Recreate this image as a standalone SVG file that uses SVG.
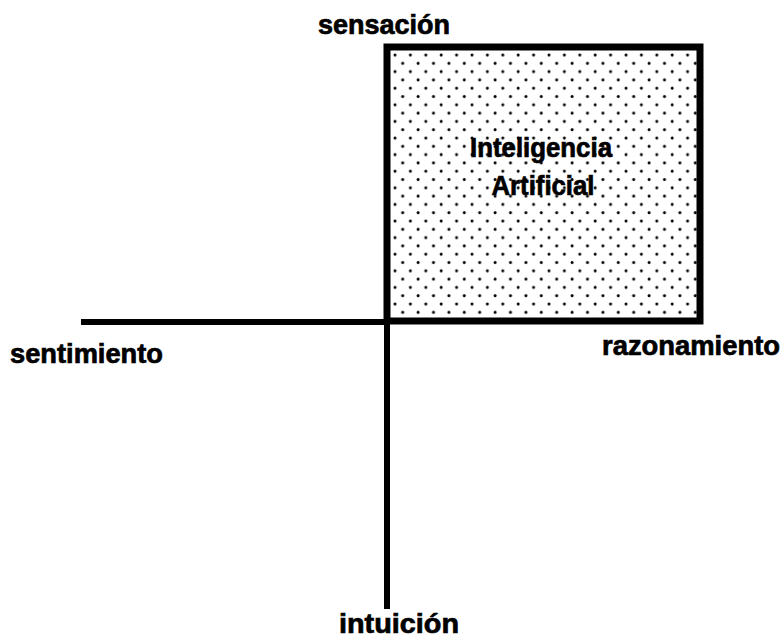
<svg xmlns="http://www.w3.org/2000/svg" width="784" height="640" viewBox="0 0 784 640">
<style>
.lbl{font-family:"Liberation Sans",Arial,sans-serif;font-weight:bold;font-size:27px;fill:#000;stroke:#000;stroke-width:0.7}
.ax{stroke:#000;stroke-width:6;fill:none;stroke-linecap:butt}
</style>
<defs>
<pattern id="dots" x="391" y="51" width="15.4" height="16.6" patternUnits="userSpaceOnUse">
<circle cx="4" cy="4" r="1.5" fill="#000"/>
<circle cx="11.7" cy="12.3" r="1.5" fill="#000"/>
</pattern>
</defs>
<rect width="784" height="640" fill="#fff"/>
<g id="ia">
<rect x="387" y="47" width="313" height="274" fill="url(#dots)" stroke="#000" stroke-width="7"/>
<text class="lbl" x="541" y="157" text-anchor="middle" textLength="142" lengthAdjust="spacingAndGlyphs">Inteligencia</text>
<text class="lbl" x="543" y="195" text-anchor="middle" textLength="103" lengthAdjust="spacingAndGlyphs">Artificial</text>
</g>
<g id="connectors">
<line class="ax" x1="81" y1="322" x2="390" y2="322"/>
<line class="ax" x1="387" y1="47" x2="387" y2="609"/>
</g>
<g id="sensacion"><text class="lbl" x="318" y="34" textLength="132" lengthAdjust="spacingAndGlyphs">sensación</text></g>
<g id="sentimiento"><text class="lbl" x="10" y="363" textLength="153" lengthAdjust="spacingAndGlyphs">sentimiento</text></g>
<g id="razonamiento"><text class="lbl" x="602" y="355" textLength="178" lengthAdjust="spacingAndGlyphs">razonamiento</text></g>
<g id="intuicion"><text class="lbl" x="339" y="633" textLength="120" lengthAdjust="spacingAndGlyphs">intuición</text></g>
</svg>
